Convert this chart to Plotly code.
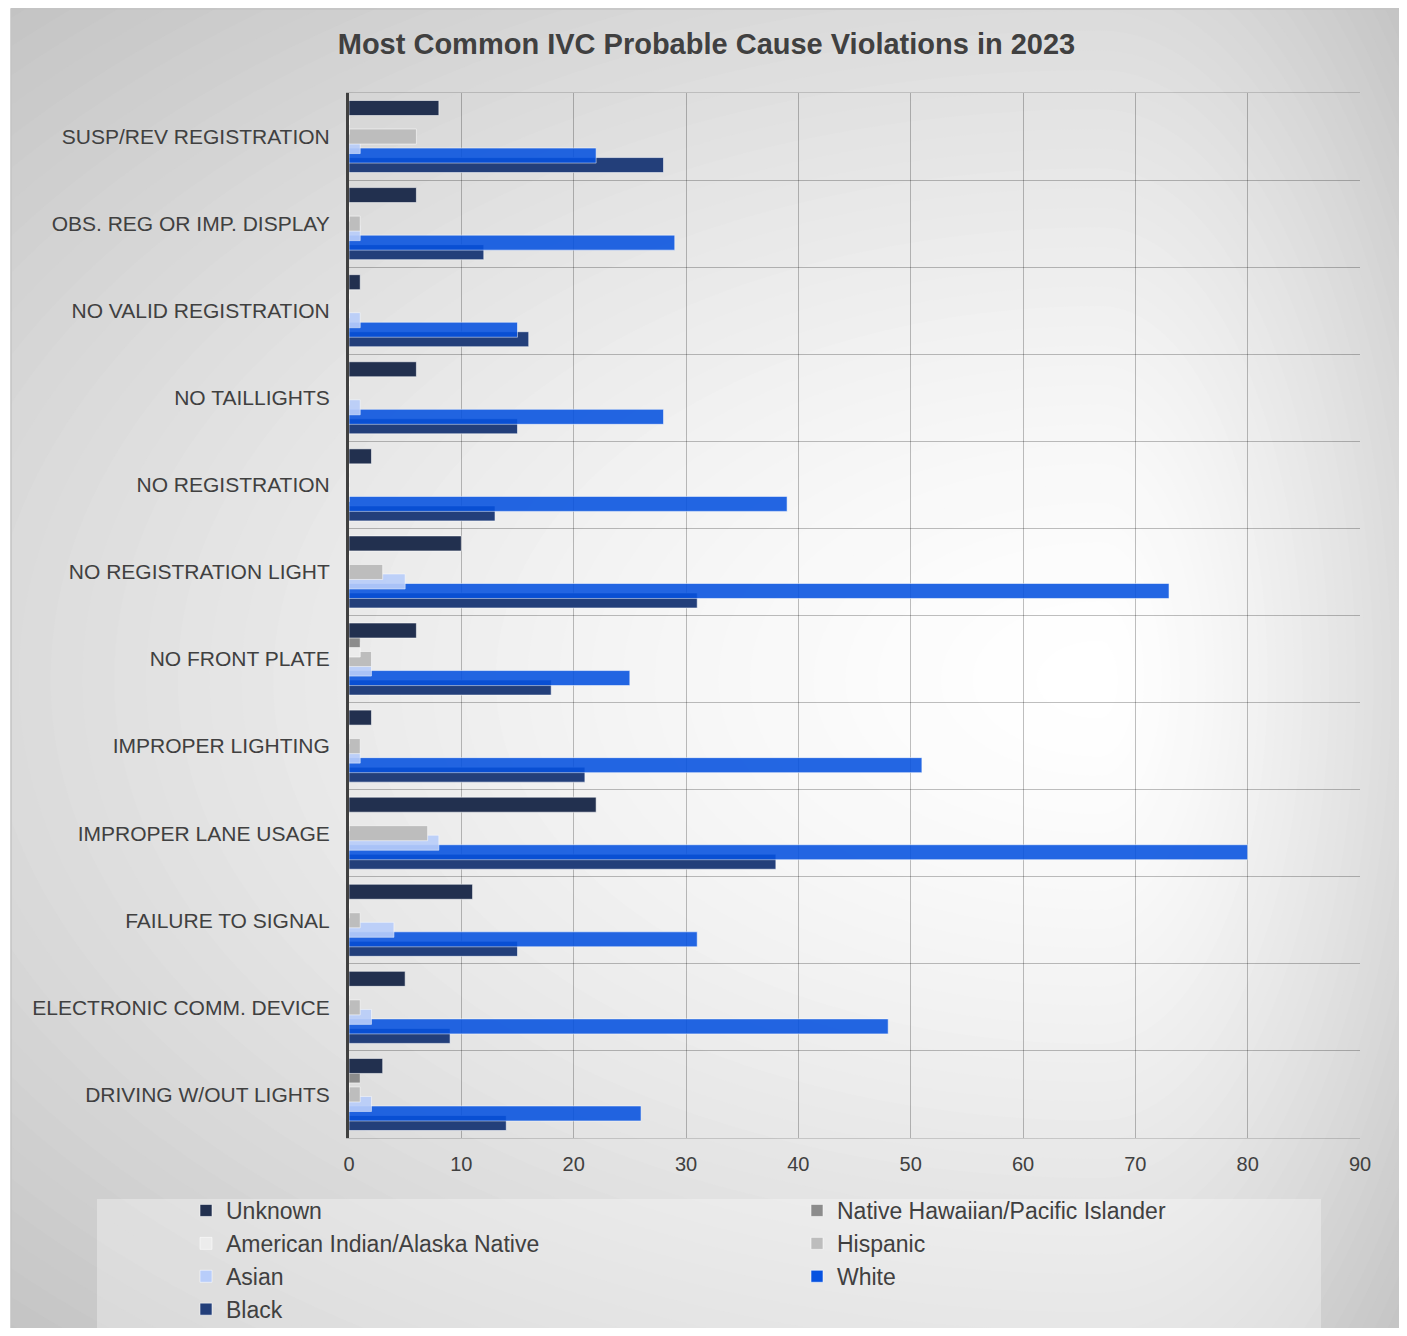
import plotly.graph_objects as go

# ---------------- data ----------------
categories = [
    "DRIVING W/OUT LIGHTS", "ELECTRONIC COMM. DEVICE", "FAILURE TO SIGNAL",
    "IMPROPER LANE USAGE", "IMPROPER LIGHTING", "NO FRONT PLATE",
    "NO REGISTRATION LIGHT", "NO REGISTRATION", "NO TAILLIGHTS",
    "NO VALID REGISTRATION", "OBS. REG OR IMP. DISPLAY", "SUSP/REV REGISTRATION",
]
black = [14, 9, 15, 38, 21, 18, 31, 13, 15, 16, 12, 28]
white = [26, 48, 31, 80, 51, 25, 73, 39, 28, 15, 29, 22]
asian = [2, 2, 4, 8, 1, 2, 5, 0, 1, 1, 1, 1]
hispanic = [1, 1, 1, 7, 1, 2, 3, 0, 0, 0, 1, 6]
american_indian = [0, 0, 0, 0, 0, 1, 0, 0, 0, 0, 0, 0]
native_hawaiian = [1, 0, 0, 0, 0, 1, 0, 0, 0, 0, 0, 0]
unknown = [3, 5, 11, 22, 2, 6, 10, 2, 6, 1, 6, 8]

series_names = ["Black", "White", "Asian", "Hispanic",
                "American Indian/Alaska Native", "Native Hawaiian/Pacific Islander", "Unknown"]
series_values = [black, white, asian, hispanic, american_indian, native_hawaiian, unknown]
x_ticks = [0, 10, 20, 30, 40, 50, 60, 70, 80, 90]

# ---------------- style ----------------
colors = ["#233f7a", "#0652e0", "#b8cdfa", "#bdbdbd", "#ececec", "#8c8c8c", "#22304f"]
opacities = [1.0, 0.88, 0.9, 1.0, 1.0, 1.0, 1.0]
legend_of = ["legend", "legend2", "legend", "legend2", "legend", "legend2", "legend"]
FONT = "Liberation Sans, Arial, sans-serif"

OFF = 8                      # page body margin
W, H = 1407 - 2 * OFF, 1336 - 2 * OFF
PL, PR, PT, PB = 349, 1360, 93, 1138   # plot area in page pixels
ML, MT = PL - OFF, PT - OFF
MR, MB = W - (PR - OFF), H - (PB - OFF)
PW, PH = PR - PL, PB - PT

slot = 9.5 / 87.0
bw = 15.0 / 87.0

fig = go.Figure()
for k, (name, vals, col) in enumerate(zip(series_names, series_values, colors)):
    center = (k - 3) * slot
    fig.add_trace(go.Bar(
        y=categories, x=vals, name=name, orientation="h",
        offset=center - bw / 2, width=bw, legend=legend_of[k],
        marker=dict(color=col, opacity=opacities[k],
                    line=dict(color="rgba(255,255,255,0.55)", width=1)),
    ))


def pxx(px):
    return (px - PL) / PW


def pxy(py):
    return (PB - py) / PH


shapes = []
L, R, T, B = 11, 1402, 6, 1336
FX, FY = 1100, 680
AXL, AXR, AYT, AYB = FX - L, R - FX, FY - T, B - FY


def gray(t):
    g = int(round(255 - 35 * t ** 1.5))
    g = max(g, 185)
    return f"rgb({g},{g},{g})"


shapes.append(dict(type="rect", xref="paper", yref="paper", x0=pxx(L), x1=pxx(R),
                   y0=pxy(B), y1=pxy(T), fillcolor=gray(1.5), line=dict(width=0), layer="below"))


def ell(t):
    kk = 0.5523
    rl, rr, rt, rb = t * AXL, t * AXR, t * AYT, t * AYB

    def P(x, y):
        return f"{pxx(x):.5f},{pxy(y):.5f}"
    s = f"M{P(FX + rr, FY)}"
    s += f" C{P(FX + rr, FY - kk * rt)} {P(FX + kk * rr, FY - rt)} {P(FX, FY - rt)}"
    s += f" C{P(FX - kk * rl, FY - rt)} {P(FX - rl, FY - kk * rt)} {P(FX - rl, FY)}"
    s += f" C{P(FX - rl, FY + kk * rb)} {P(FX - kk * rl, FY + rb)} {P(FX, FY + rb)}"
    s += f" C{P(FX + kk * rr, FY + rb)} {P(FX + rr, FY + kk * rb)} {P(FX + rr, FY)} Z"
    return s


N = 50
TMAX = 1.46
for i in range(N):
    t = TMAX * (1 - i / N)
    shapes.append(dict(type="path", xref="paper", yref="paper", path=ell(t),
                       fillcolor=gray(t), line=dict(width=0), layer="below"))

# white margins outside frame
for (x0, x1, y0, y1) in [(-30, L, -30, 1400), (R, 1440, -30, 1400)]:
    shapes.append(dict(type="rect", xref="paper", yref="paper", x0=pxx(x0), x1=pxx(x1),
                       y0=pxy(y1), y1=pxy(y0), fillcolor="white", line=dict(width=0), layer="below"))
shapes.append(dict(type="rect", xref="paper", yref="paper", x0=pxx(L), x1=pxx(R),
                   y0=pxy(B + 4), y1=pxy(OFF + 1), fillcolor="rgba(0,0,0,0)",
                   line=dict(width=1.5, color="#c4c4c4"), layer="below"))
# legend panel
shapes.append(dict(type="rect", xref="paper", yref="paper", x0=pxx(97), x1=pxx(1321),
                   y0=pxy(1332), y1=pxy(1199), fillcolor="rgba(255,255,255,0.32)",
                   line=dict(width=0), layer="below"))

grid = "rgba(0,0,0,0.25)"
legend_common = dict(orientation="v", traceorder="reversed", yanchor="top",
                     bgcolor="rgba(0,0,0,0)", borderwidth=0,
                     font=dict(size=23, color="#404040", family=FONT),
                     itemclick=False, itemdoubleclick=False, tracegroupgap=0)
LEG_TOP = 1189
fig.update_layout(
    width=W, height=H,
    margin=dict(l=ML, r=MR, t=MT, b=MB, pad=0, autoexpand=False),
    paper_bgcolor="white", plot_bgcolor="rgba(0,0,0,0)",
    barmode="overlay",
    font=dict(family=FONT, color="#404040"),
    title=dict(text="<b>Most Common IVC Probable Cause Violations in 2023</b>",
               x=(706.5 - OFF) / W, xref="container", xanchor="center",
               y=1 - (44 - OFF) / H, yref="container", yanchor="middle",
               font=dict(size=29, color="#404040", family=FONT)),
    xaxis=dict(range=[0, 90], tickvals=x_ticks, showgrid=True, gridcolor=grid, gridwidth=1.2,
               zeroline=False, showline=True, mirror=True, linecolor="rgba(0,0,0,0.15)",
               linewidth=1.2,
               ticks="", ticklabelstandoff=8, tickfont=dict(size=20, color="#404040"),
               fixedrange=True),
    yaxis=dict(type="category", categoryorder="array", categoryarray=categories,
               tickson="boundaries", showgrid=True, gridcolor=grid, gridwidth=1.2,
               showline=True, linecolor="#404040", linewidth=3, ticks="",
               ticklabelstandoff=12, tickfont=dict(size=21, color="#404040"),
               range=[-0.5, len(categories) - 0.5], fixedrange=True),
    legend=dict(x=pxx(227 - 41), xanchor="left", y=pxy(LEG_TOP), **legend_common),
    legend2=dict(x=pxx(838 - 41), xanchor="left", y=pxy(LEG_TOP), **legend_common),
    shapes=shapes,
    showlegend=True,
)

fig.write_html("out.html")
